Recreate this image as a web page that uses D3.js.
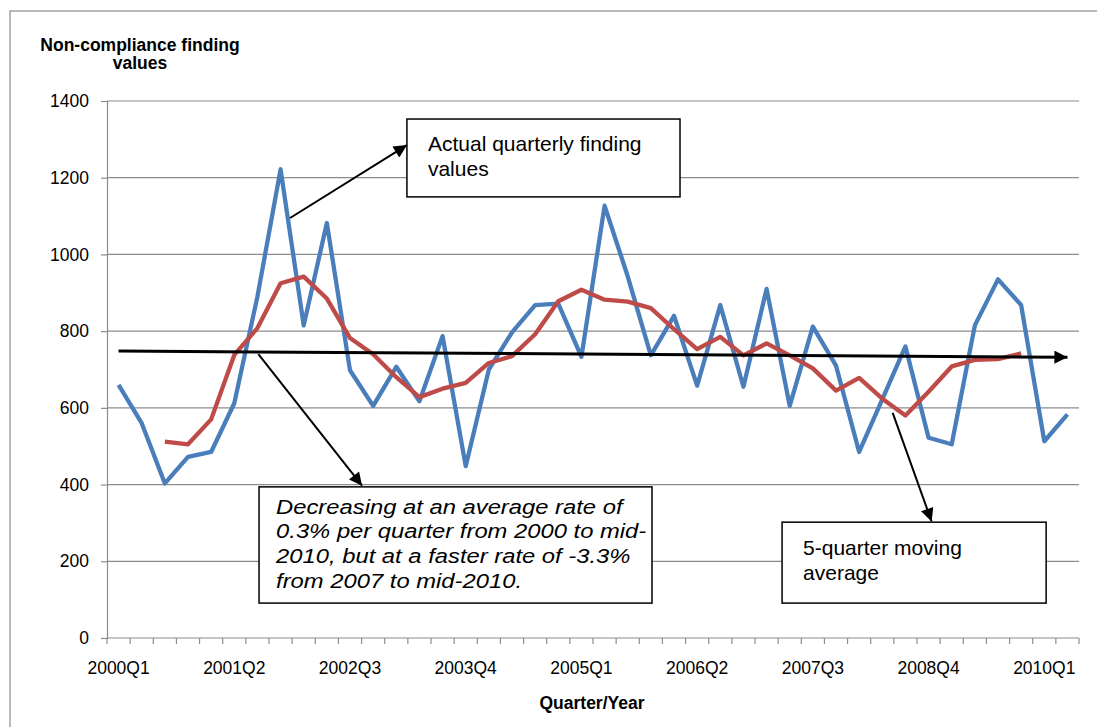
<!DOCTYPE html>
<html lang="en">
<head>
<meta charset="UTF-8">
<title>Non-compliance finding values</title>
<style>
  * { margin: 0; box-sizing: border-box; }
  body { width: 1097px; height: 727px; background: #fff; overflow: hidden; }
  svg { display: block; font-family: "Liberation Sans", Arial, sans-serif; }
  .grid line { stroke: #8c8c8c; stroke-width: 1.2; }
  .axis path, .axis line { stroke: #8c8c8c; }
  .ann rect { fill: #fff; stroke: #000; stroke-width: 1.5; }
</style>
</head>
<body>
<svg id="chart" width="1097" height="727"></svg>

<script src="https://d3js.org/d3.v7.min.js"></script>
<script>
  // data
  const quarters = [];
  for (let yr = 2000; yr <= 2010; yr++) {
    for (let q = 1; q <= 4; q++) {
      if (yr === 2010 && q > 2) break;
      quarters.push(`${yr}Q${q}`);
    }
  }

  const actual = [
    660, 560, 403, 472, 485, 612, 890, 1222, 815, 1082,
    698, 605, 707, 617, 787, 448, 700, 797, 868, 872,
    733, 1127, 943, 737, 840, 658, 868, 655, 910, 605,
    812, 710, 485, 622, 760, 522, 505, 815, 935, 868,
    513, 583
  ];

  // 5-quarter moving average, starts at 2000Q3, ends at 2009Q4
  const movingAvg = [
    null, null, 512, 505, 570, 738, 808, 925, 942, 885,
    782, 740, 680, 628, 650, 665, 717, 735, 792, 878,
    908, 882, 877, 860, 805, 753, 785, 737, 768, 737,
    703, 645, 678, 624, 580, 642, 708, 725, 727, 742,
    null, null
  ];

  const yTicks = [0, 200, 400, 600, 800, 1000, 1200, 1400];
  const xLabels = quarters.filter((d, i) => i % 5 === 0);

  // trend line (first quarter -> last quarter)
  const trend = [{ i: 0, v: 748 }, { i: 41, v: 732 }];

  // callouts, in (quarter index, value) units
  const callouts = [
    { box: [12.46, 1353, 24.26, 1150], lines: ["Actual quarterly finding", "values"],
      italic: false, size: 21, sx: 1, pad: 21, first: 32, lh: 25,
      from: [7.41, 1095], to: [12.46, 1285] },
    { box: [6.07, 394, 23.05, 91],
      lines: ["Decreasing at an average rate of", "0.3% per quarter from 2000 to mid-",
              "2010, but at a faster rate of -3.3%", "from 2007 to mid-2010."],
      italic: true, size: 19.5, sx: 1.22, pad: 17, first: 27, lh: 24.6,
      from: [6.04, 740], to: [10.52, 397] },
    { box: [28.67, 302, 40.08, 91], lines: ["5-quarter moving", "average"],
      italic: false, size: 21, sx: 1, pad: 21, first: 33, lh: 25,
      from: [33.45, 587], to: [35.13, 304] }
  ];

  // layout
  const svg = d3.select("#chart");
  const plot = { left: 107, right: 1079, top: 101, bottom: 638 };

  svg.append("rect")
    .attr("x", 10).attr("y", 11)
    .attr("width", 1100).attr("height", 730)
    .attr("fill", "none").attr("stroke", "#8c8c8c").attr("stroke-width", 1.2);

  const xb = d3.scaleBand().domain(quarters).range([plot.left, plot.right]).padding(0);
  const xc = d => xb(d) + xb.bandwidth() / 2;
  const xi = i => plot.left + xb.step() * (i + 0.5);
  const y = d3.scaleLinear().domain([0, 1400]).range([plot.bottom, plot.top]);

  // gridlines
  svg.append("g").attr("class", "grid")
    .selectAll("line")
    .data(yTicks.filter(d => d > 0))
    .join("line")
    .attr("x1", plot.left).attr("x2", plot.right)
    .attr("y1", d => y(d)).attr("y2", d => y(d));

  // y axis
  const yAxis = svg.append("g").attr("class", "axis")
    .attr("transform", `translate(${plot.left},0)`)
    .call(d3.axisLeft(y).tickValues(yTicks).tickFormat(d3.format("d")).tickSize(6).tickPadding(12))
    .call(g => g.selectAll("text").attr("font-size", 17.5).attr("fill", "#000")
      .attr("font-family", "'Liberation Sans', Arial, sans-serif"));
  yAxis.selectAll("path, line").attr("stroke-width", 1.2);

  // x axis: line, boundary ticks, labels every 5 quarters
  const xAxis = svg.append("g").attr("class", "axis")
    .attr("transform", `translate(0,${plot.bottom})`);
  xAxis.append("line")
    .attr("x1", plot.left).attr("x2", plot.right)
    .attr("stroke-width", 1.2);
  xAxis.selectAll("line.tk")
    .data(d3.range(quarters.length + 1))
    .join("line").attr("class", "tk")
    .attr("x1", i => plot.left + xb.step() * i)
    .attr("x2", i => plot.left + xb.step() * i)
    .attr("y1", 0).attr("y2", 6).attr("stroke-width", 1.2);
  xAxis.selectAll("text")
    .data(xLabels)
    .join("text")
    .attr("x", d => xc(d)).attr("y", 36)
    .attr("text-anchor", "middle")
    .attr("font-size", 17.5)
    .text(d => d);

  // axis titles
  svg.append("text")
    .attr("x", 140).attr("y", 51)
    .attr("text-anchor", "middle")
    .attr("font-size", 17.5).attr("font-weight", "bold")
    .selectAll("tspan")
    .data(["Non-compliance finding", "values"])
    .join("tspan")
    .attr("x", 140).attr("dy", (d, i) => i ? 18 : 0)
    .text(d => d);

  svg.append("text")
    .attr("x", 592).attr("y", 709)
    .attr("text-anchor", "middle")
    .attr("font-size", 17.5).attr("font-weight", "bold")
    .text("Quarter/Year");

  // series
  const line = d3.line()
    .defined(d => d.v != null)
    .x(d => xc(d.q)).y(d => y(d.v));

  svg.append("path")
    .datum(quarters.map((q, i) => ({ q, v: actual[i] })))
    .attr("d", line)
    .attr("fill", "none")
    .attr("stroke", "#4a7ebb")
    .attr("stroke-width", 4.3)
    .attr("stroke-linejoin", "round");

  svg.append("path")
    .datum(quarters.map((q, i) => ({ q, v: movingAvg[i] })))
    .attr("d", line)
    .attr("fill", "none")
    .attr("stroke", "#be4b48")
    .attr("stroke-width", 4.3)
    .attr("stroke-linejoin", "round");

  // arrow markers
  const defs = svg.append("defs");
  defs.append("marker")
    .attr("id", "arr")
    .attr("viewBox", "0 0 10 10")
    .attr("refX", 10).attr("refY", 5)
    .attr("markerUnits", "userSpaceOnUse")
    .attr("markerWidth", 15).attr("markerHeight", 13)
    .attr("orient", "auto")
    .append("path").attr("d", "M0,0 L10,5 L0,10 Z").attr("fill", "#000");

  // trend line
  svg.append("line")
    .attr("x1", xi(trend[0].i)).attr("y1", y(trend[0].v))
    .attr("x2", xi(trend[1].i)).attr("y2", y(trend[1].v))
    .attr("stroke", "#000").attr("stroke-width", 3)
    .attr("marker-end", "url(#arr)");

  // callouts
  const ann = svg.append("g").attr("class", "ann");
  callouts.forEach(c => {
    ann.append("line")
      .attr("x1", xi(c.from[0])).attr("y1", y(c.from[1]))
      .attr("x2", xi(c.to[0])).attr("y2", y(c.to[1]))
      .attr("stroke", "#000").attr("stroke-width", 2)
      .attr("marker-end", "url(#arr)");
  });
  callouts.forEach(c => {
    const x0 = xi(c.box[0]), y0 = y(c.box[1]);
    const x1 = xi(c.box[2]), y1 = y(c.box[3]);
    ann.append("rect")
      .attr("x", x0).attr("y", y0)
      .attr("width", x1 - x0).attr("height", y1 - y0);
    ann.append("text")
      .attr("transform", `translate(${x0 + c.pad},${y0 + c.first}) scale(${c.sx},1)`)
      .attr("font-size", c.size)
      .attr("font-style", c.italic ? "italic" : "normal")
      .selectAll("tspan")
      .data(c.lines)
      .join("tspan")
      .attr("x", 0)
      .attr("y", (d, i) => i * c.lh)
      .text(d => d);
  });
</script>
</body>
</html>
